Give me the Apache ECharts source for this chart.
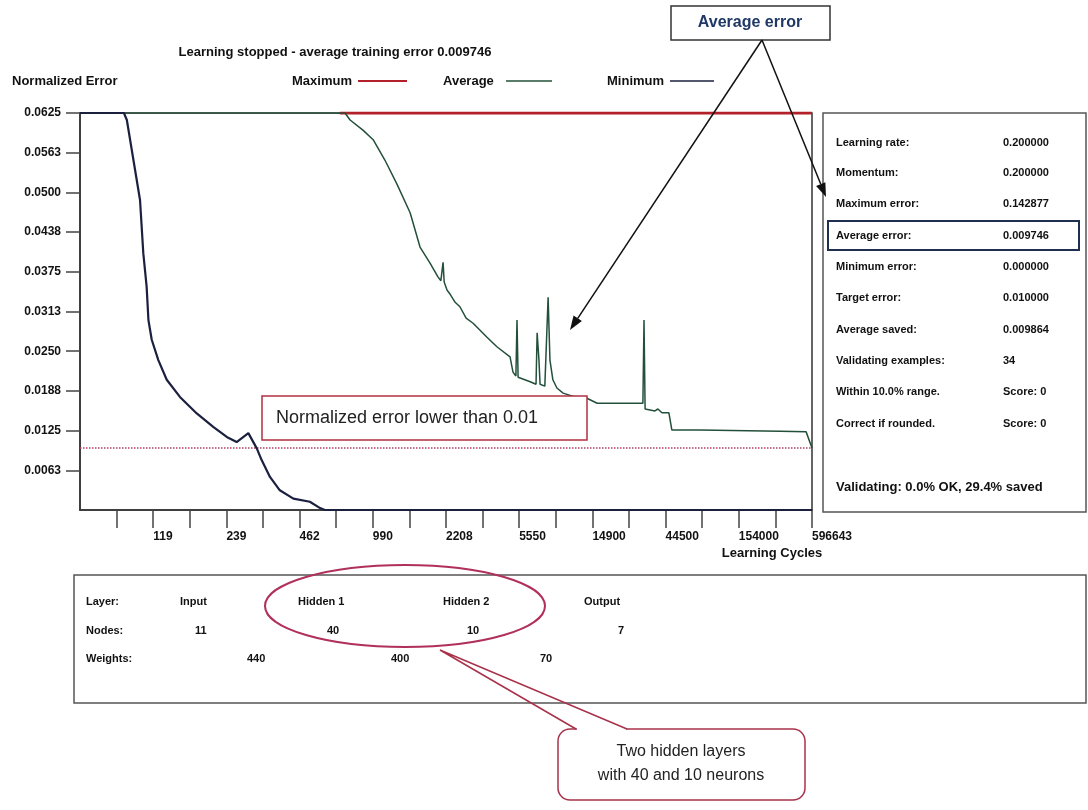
<!DOCTYPE html>
<html><head><meta charset="utf-8">
<script src="https://cdn.jsdelivr.net/npm/echarts@6/dist/echarts.min.js"></script>
<style>html,body{margin:0;padding:0;background:#fff}#c{width:1088px;height:810px}</style>
</head><body><div id="c"></div>
<script>
// ---- data (x = position in axis tick units, y = normalized error) ----
const xTickLabels = ['', '', '119', '', '239', '', '462', '', '990', '', '2208', '', '5550', '', '14900', '', '44500', '', '154000', '', '596643'];
const yTickLabels = ['', '0.0063', '0.0125', '0.0188', '0.0250', '0.0313', '0.0375', '0.0438', '0.0500', '0.0563', '0.0625'];
const maximumError = [[7.1, 0.0625], [20, 0.0625]];
const averageError = [
  [0, 0.0625], [7.24, 0.0625], [7.38, 0.0614], [7.73, 0.0598], [8.01, 0.0583], [8.33, 0.0551],
  [8.66, 0.0513], [9.02, 0.0468], [9.29, 0.0414], [9.56, 0.0389], [9.78, 0.0367], [9.86, 0.0361],
  [9.92, 0.0390], [9.95, 0.0359], [10.03, 0.0346], [10.11, 0.0340], [10.25, 0.0327], [10.38, 0.0320],
  [10.55, 0.0302], [10.74, 0.0294], [10.93, 0.0283], [11.12, 0.0272], [11.39, 0.0257], [11.75, 0.0241],
  [11.83, 0.0217], [11.91, 0.0211], [11.94, 0.0299], [11.97, 0.0209], [12.30, 0.0202], [12.46, 0.0198],
  [12.49, 0.0279], [12.54, 0.0236], [12.57, 0.0198], [12.70, 0.0195], [12.79, 0.0335], [12.84, 0.0236],
  [12.92, 0.0205], [13.03, 0.0192], [13.20, 0.0184], [13.52, 0.0178], [13.85, 0.0176], [14.13, 0.0168],
  [15.38, 0.0168], [15.41, 0.0299], [15.44, 0.0159], [15.71, 0.0156], [15.79, 0.0159], [15.90, 0.0153],
  [16.09, 0.0153], [16.17, 0.0126], [16.94, 0.0126], [19.13, 0.0124], [19.84, 0.0123], [20, 0.00975]
];
const minimumError = [
  [0, 0.0625], [1.20, 0.0625], [1.28, 0.0614], [1.64, 0.0488], [1.73, 0.0404], [1.82, 0.0352],
  [1.87, 0.0299], [1.96, 0.0268], [2.14, 0.0236], [2.37, 0.0205], [2.73, 0.0178], [3.19, 0.0152],
  [3.64, 0.0131], [4.01, 0.0115], [4.28, 0.0107], [4.60, 0.0121], [4.83, 0.0097], [4.96, 0.0079],
  [5.19, 0.0052], [5.46, 0.0031], [5.83, 0.0018], [6.28, 0.0013], [6.56, 0.0003], [6.69, 0], [20, 0]
];
const thresholdLine = [[0, 0.00975], [20, 0.00975]];
const titleText = 'Learning stopped - average training error 0.009746';
const legendNames = ['Maximum', 'Average', 'Minimum'];
const statLabels = ['Learning rate:', 'Momentum:', 'Maximum error:', 'Average error:', 'Minimum error:', 'Target error:', 'Average saved:', 'Validating examples:', 'Within 10.0% range.', 'Correct if rounded.'];
const statValues = ['0.200000', '0.200000', '0.142877', '0.009746', '0.000000', '0.010000', '0.009864', '34', 'Score: 0', 'Score: 0'];
const statusText = 'Validating: 0.0% OK, 29.4% saved';
const layerNames = ['Input', 'Hidden 1', 'Hidden 2', 'Output'];
const layerNodes = ['11', '40', '10', '7'];
const layerWeights = ['440', '400', '70'];

// ---- styling ----
const F = '"Liberation Sans", Arial, sans-serif';
const B = 'bold 11px ' + F;
const B13 = 'bold 13px ' + F;
const C_MAX = '#b3202a', C_AVG = '#23503a', C_MIN = '#1b203f';

function txt(text, x, y, font, fill, align) {
  return { type: 'text', z: 100, style: { text: text, x: x, y: y, font: font, fill: fill || '#111',
    align: align || 'left', textAlign: align || 'left', verticalAlign: 'middle', textVerticalAlign: 'middle' } };
}
function ln(x1, y1, x2, y2, stroke, w) {
  return { type: 'line', z: 100, shape: { x1: x1, y1: y1, x2: x2, y2: y2 }, style: { stroke: stroke, lineWidth: w } };
}
function arrow(x1, y1, x2, y2) {
  const dx = x2 - x1, dy = y2 - y1, L = Math.sqrt(dx * dx + dy * dy), ux = dx / L, uy = dy / L;
  const bx = x2 - 14 * ux, by = y2 - 14 * uy, nx = -uy, ny = ux;
  return [ln(x1, y1, bx, by, '#111', 1.5),
    { type: 'polygon', z: 100, shape: { points: [[x2, y2], [bx + 5 * nx, by + 5 * ny], [bx - 5 * nx, by - 5 * ny]] }, style: { fill: '#111' } }];
}
const g = [];
g.push(txt(titleText, 335, 52, B13, '#111', 'center'));
g.push(txt('Normalized Error', 12, 81, B13));
g.push(txt(legendNames[0], 292, 81, B13)); g.push(ln(358, 81, 407, 81, C_MAX, 2));
g.push(txt(legendNames[1], 443, 81, B13)); g.push(ln(506, 81, 552, 81, C_AVG, 1.5));
g.push(txt(legendNames[2], 607, 81, B13)); g.push(ln(670, 81, 714, 81, C_MIN, 1.5));
g.push(txt('Learning Cycles', 772, 553, B13, '#111', 'center'));
// Average error callout
g.push({ type: 'rect', z: 100, shape: { x: 671, y: 6, width: 159, height: 34 }, style: { fill: '#fff', stroke: '#333', lineWidth: 1.5 } });
g.push(txt('Average error', 750, 23, 'bold 16px ' + F, '#1f3864', 'center'));
arrow(762, 40, 570, 330).forEach(e => g.push(e));
arrow(762, 40, 826, 197).forEach(e => g.push(e));
// threshold callout
g.push({ type: 'rect', z: 100, shape: { x: 262, y: 396, width: 325, height: 44 }, style: { fill: '#fff', stroke: '#b03040', lineWidth: 1.5 } });
g.push(txt('Normalized error lower than 0.01', 276, 418, '18px ' + F, '#222'));
// right panel
g.push({ type: 'rect', z: 90, shape: { x: 823, y: 113, width: 263, height: 399 }, style: { fill: '#fff', stroke: '#555', lineWidth: 1.5 } });
statLabels.forEach((s, i) => {
  const y = [143, 173, 204, 236, 267, 298, 330, 361, 392, 424][i];
  g.push(txt(s, 836, y, B)); g.push(txt(statValues[i], 1003, y, B));
});
g.push({ type: 'rect', z: 100, shape: { x: 828, y: 221, width: 251, height: 29 }, style: { fill: 'none', stroke: '#1f2f4f', lineWidth: 2 } });
g.push(txt(statusText, 836, 487, 'bold 13px ' + F));
// bottom panel
g.push({ type: 'rect', z: 90, shape: { x: 74, y: 575, width: 1012, height: 128 }, style: { fill: '#fff', stroke: '#555', lineWidth: 1.5 } });
g.push(txt('Layer:', 86, 602, B)); g.push(txt('Nodes:', 86, 631, B)); g.push(txt('Weights:', 86, 659, B));
[180, 298, 443, 584].forEach((x, i) => g.push(txt(layerNames[i], x, 602, B)));
[195, 327, 467, 618].forEach((x, i) => g.push(txt(layerNodes[i], x, 631, B)));
[247, 391, 540].forEach((x, i) => g.push(txt(layerWeights[i], x, 659, B)));
g.push({ type: 'ellipse', z: 100, shape: { cx: 405, cy: 606, rx: 140, ry: 41 }, style: { fill: 'none', stroke: '#b0305a', lineWidth: 2 } });
// speech-bubble callout
g.push({ type: 'rect', z: 100, shape: { x: 558, y: 729, width: 247, height: 71, r: 12 }, style: { fill: '#fff', stroke: '#a8324a', lineWidth: 1.5 } });
g.push(ln(577, 729, 626, 729, '#fff', 3));
g.push({ type: 'polyline', z: 101, shape: { points: [[576, 729], [440, 650], [627, 729]] }, style: { fill: 'none', stroke: '#a8324a', lineWidth: 1.5 } });
g.push(txt('Two hidden layers', 681, 752, '16px ' + F, '#222', 'center'));
g.push(txt('with 40 and 10 neurons', 681, 776, '16px ' + F, '#222', 'center'));

const xTickPositions = xTickLabels.map((_, i) => i).filter(i => i > 0);
const yTickPositions = yTickLabels.map((_, i) => i * 0.00625).filter(v => v > 0);

const chart = echarts.init(document.getElementById('c'), null, { renderer: 'canvas' });
chart.setOption({
  animation: false,
  backgroundColor: '#fff',
  grid: { left: 80, top: 113, width: 732, height: 397, show: true, borderColor: '#333', borderWidth: 1.5, backgroundColor: 'transparent' },
  xAxis: {
    type: 'value', min: 0, max: 20, interval: 1,
    axisLine: { lineStyle: { color: '#333', width: 1.5 } },
    axisTick: { length: 18, customValues: xTickPositions, lineStyle: { color: '#444', width: 1.5 } },
    axisLabel: { margin: 21, align: 'left', color: '#111', fontSize: 12, fontWeight: 'bold', fontFamily: F,
      showMinLabel: true, showMaxLabel: true, hideOverlap: false,
      formatter: v => xTickLabels[Math.round(v)] || '' },
    splitLine: { show: false }
  },
  yAxis: {
    type: 'value', min: 0, max: 0.0625, interval: 0.00625,
    axisLine: { show: true, lineStyle: { color: '#333', width: 1.5 } },
    axisTick: { show: true, length: 14, customValues: yTickPositions, lineStyle: { color: '#444', width: 1.5 } },
    axisLabel: { margin: 19, color: '#111', fontSize: 12, fontWeight: 'bold', fontFamily: F,
      formatter: v => yTickLabels[Math.round(v / 0.00625)] || '' },
    splitLine: { show: false }
  },
  series: [
    { name: 'Maximum', type: 'line', data: maximumError, showSymbol: false, lineStyle: { color: C_MAX, width: 3 }, z: 2 },
    { name: 'Threshold', type: 'line', data: thresholdLine, showSymbol: false, lineStyle: { color: '#b04060', width: 1.5, type: 'dotted' }, z: 2 },
    { name: 'Average', type: 'line', data: averageError, showSymbol: false, lineStyle: { color: C_AVG, width: 1.5 }, z: 3 },
    { name: 'Minimum', type: 'line', data: minimumError, showSymbol: false, lineStyle: { color: C_MIN, width: 2.2 }, z: 4 }
  ],
  graphic: { elements: g }
});
</script></body></html>
